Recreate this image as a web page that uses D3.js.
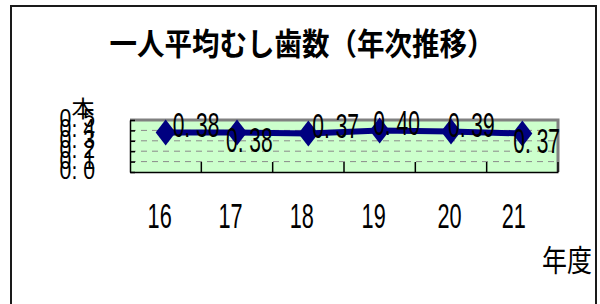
<!DOCTYPE html>
<html><head><meta charset="utf-8">
<script src="https://cdn.jsdelivr.net/npm/d3@7"></script>
<style>body{margin:0;background:#fff}svg{display:block}</style></head>
<body><svg id="c" width="600" height="304"></svg>
<script>
const categories = ["16","17","18","19","20","21"];
const values = [0.38,0.38,0.37,0.40,0.39,0.37];
const yTicks = [0,0.1,0.2,0.3,0.4,0.5];
const gridTicks = [0.1,0.2,0.3,0.4];
const title = "一人平均むし歯数（年次推移）";
const yTitle = "本";
const xTitle = "年度";
// data label placement relative to each point: [dx to text start, dy to baseline]
const labelOffsets = [[7,4.5],[-11,19.5],[4,4.5],[-6.5,4.6],[-3,5.3],[-9,19.7]];
const xTickShift = [-6,-6.5,-6.5,-6,-1.5,-8.5];

const svg = d3.select("#c");
const L = 130, R = 558, T = 120, B = 172;
const x = d3.scaleBand().domain(categories).range([L, R]).padding(0);
const y = d3.scaleLinear().domain([0, 0.5]).range([B, T]);
const cx = c => x(c) + x.bandwidth() / 2;
const fmt = d3.format(".2f");
const spaced = s => s.replace(".", ". ");

function txt(px, py, s, o) {
  return svg.append("text")
    .attr("transform", `translate(${px},${py}) scale(${o.sx||1},${o.sy||1})`)
    .attr("text-anchor", o.anchor || "start")
    .attr("font-family", o.family || "'Liberation Sans', Arial, sans-serif")
    .attr("font-size", o.size)
    .attr("font-weight", o.weight || "normal")
    .attr("fill", "#000")
    .text(s);
}

// chart border
svg.append("rect").attr("x", 11).attr("y", 6).attr("width", 585).attr("height", 320)
  .attr("fill", "none").attr("stroke", "#1a1a1a").attr("stroke-width", 2);

// title
txt(302, 55, title, {size: 27.5, sy: 1.1, anchor: "middle", weight: "bold", family: "'Noto Sans CJK JP', sans-serif"});

// plot area
svg.append("rect").attr("x", L).attr("y", T).attr("width", R - L).attr("height", B - T)
  .attr("fill", "#ccffcc");
svg.append("g").selectAll("line").data(gridTicks).join("line")
  .attr("x1", L).attr("x2", R).attr("y1", d => y(d)).attr("y2", d => y(d))
  .attr("stroke", "#8a8a8a").attr("stroke-width", 1).attr("stroke-dasharray", "6,5");
// top & right gray border
svg.append("path").attr("d", `M${L},${T} H${R} V${B}`)
  .attr("fill", "none").attr("stroke", "#808080").attr("stroke-width", 3);

// y axis (ticks inside)
const yAxis = d3.axisLeft(y).tickValues(yTicks).tickSizeInner(-5).tickSizeOuter(0).tickFormat("");
const gy = svg.append("g").attr("transform", `translate(${L},0)`).call(yAxis);
gy.selectAll("path,line").attr("stroke", "#000").attr("stroke-width", 1.5);

// x axis with category boundary ticks inside
const gx = svg.append("g").attr("transform", `translate(0,${B})`)
  .call(d3.axisBottom(x).tickSize(0).tickFormat(""));
gx.select("path").attr("stroke", "#000").attr("stroke-width", 1.5);
const bounds = categories.map(c => x(c) + x.bandwidth());
svg.append("g").selectAll("line").data(bounds).join("line")
  .attr("x1", d => d).attr("x2", d => d).attr("y1", B - 10).attr("y2", B)
  .attr("stroke", "#000").attr("stroke-width", 1.5);

// y tick labels (overlapping, as in the reference)
yTicks.forEach(v => txt(95, y(v) + 7, spaced(d3.format(".1f")(v)), {size: 25, sx: 0.85, anchor: "end"}));
txt(83, 117, yTitle, {size: 23, anchor: "middle", family: "'Noto Sans CJK JP', sans-serif"});

// x tick labels
categories.forEach((c, i) => txt(cx(c) + xTickShift[i], 228, c, {size: 35, sx: 0.62, anchor: "middle"}));
txt(542, 271, xTitle, {size: 26, sx: 0.96, sy: 1.15, family: "'Noto Sans CJK JP', sans-serif"});

// line & markers
const pts = categories.map((c, i) => [cx(c), y(values[i])]);
svg.append("path").attr("d", d3.line()(pts))
  .attr("fill", "none").attr("stroke", "#000080").attr("stroke-width", 6);
svg.append("g").selectAll("path").data(pts).join("path")
  .attr("transform", d => `translate(${d[0]},${d[1]})`)
  .attr("d", "M0,-13L10,0L0,13L-10,0Z").attr("fill", "#000080");

// data labels
pts.forEach((p, i) => txt(p[0] + labelOffsets[i][0], p[1] + labelOffsets[i][1],
  spaced(fmt(values[i])), {size: 35, sx: 0.6}));
</script></body></html>
